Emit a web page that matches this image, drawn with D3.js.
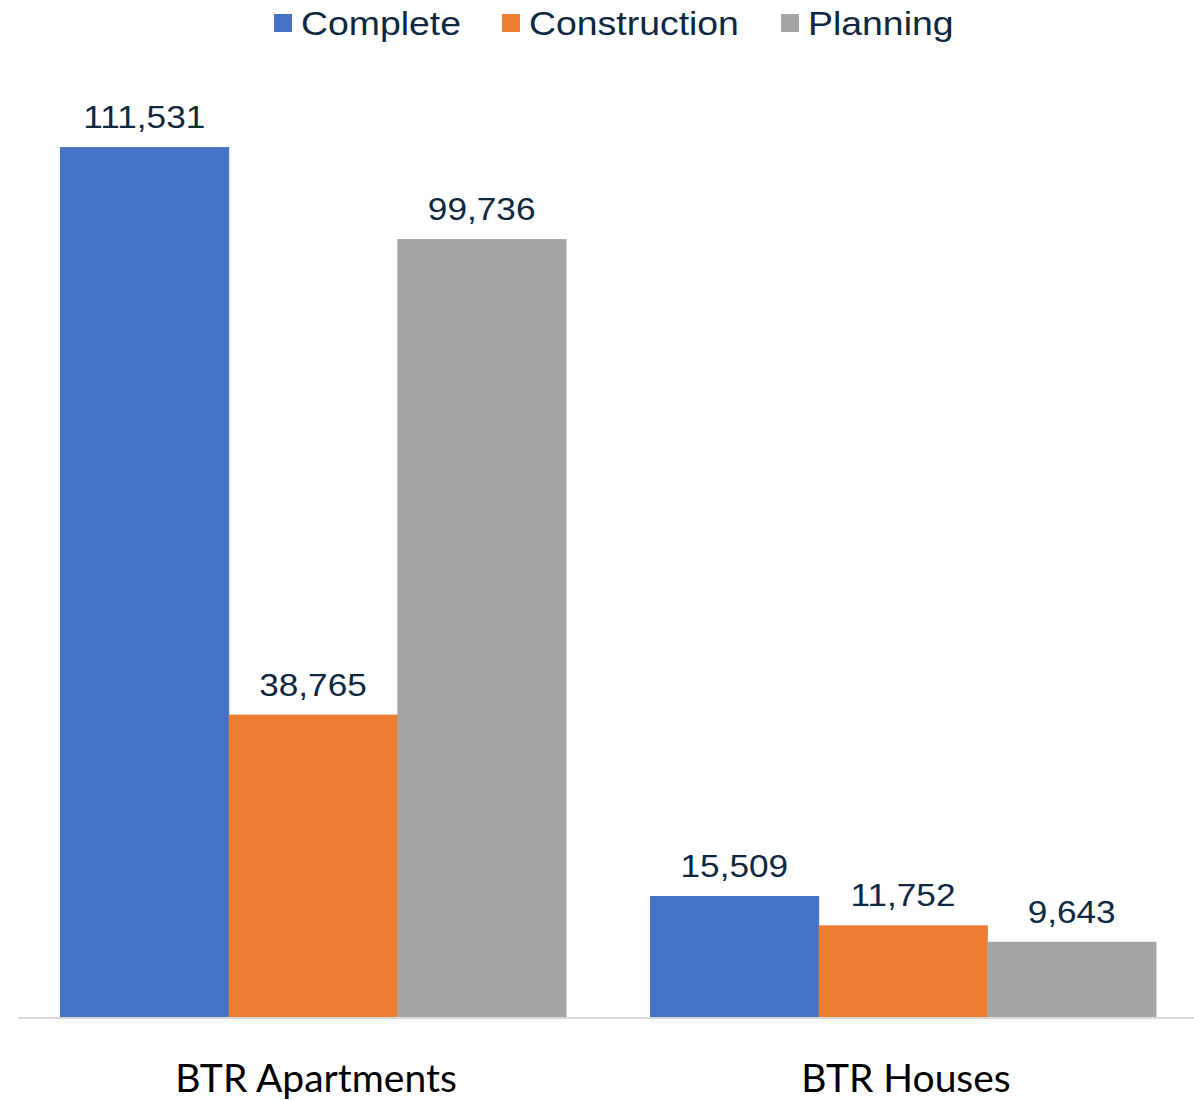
<!DOCTYPE html>
<html>
<head>
<meta charset="utf-8">
<script src="https://cdn.jsdelivr.net/npm/d3@7"></script>
<style>
body{margin:0;background:#fff;}
</style>
</head>
<body>
<svg></svg>
<script>
// chart data
const categories = ["BTR Apartments", "BTR Houses"];
const seriesNames = ["Complete", "Construction", "Planning"];
const complete = [111531, 15509];
const construction = [38765, 11752];
const planning = [99736, 9643];

const colors = ["#4472c4", "#ed7d31", "#a5a5a5"];
const labelColor = "#0e2841";

const canvasWidth = 1194;
const canvasHeight = 1100;
const baseY = 1017;
const left = 18;
const groupGap = 42;

var svg = d3.select("svg")
    .attr("width", canvasWidth)
    .attr("height", canvasHeight);

var series = [complete, construction, planning];
var rows = categories.map(function(c, i){
    return {cat: c, vals: series.map(function(s, j){ return {name: seriesNames[j], v: s[i], k: j}; })};
});

var x0 = d3.scaleBand().domain(categories).range([left, canvasWidth + 4]).padding(0);
var x1 = d3.scaleBand().domain(seriesNames).range([groupGap, x0.bandwidth() - groupGap]).padding(0);
var y = d3.scaleLinear().domain([0, 120000]).range([baseY, baseY - 936]);

var fmt = d3.format(",");

var g = svg.selectAll("g.grp").data(rows).enter().append("g")
    .attr("class", "grp")
    .attr("transform", function(d){ return "translate(" + x0(d.cat) + ",0)"; });

g.selectAll("rect").data(function(d){ return d.vals; }).enter().append("rect")
    .attr("x", function(d){ return x1(d.name); })
    .attr("y", function(d){ return y(d.v); })
    .attr("width", x1.bandwidth() + 0.5)
    .attr("height", function(d){ return baseY - y(d.v); })
    .style("fill", function(d){ return colors[d.k]; });

// value labels (slightly stretched like the source render)
g.selectAll("text.val").data(function(d){ return d.vals; }).enter().append("text")
    .attr("class", "val")
    .attr("transform", function(d){
        return "translate(" + (x1(d.name) + x1.bandwidth()/2) + "," + (y(d.v) - 19) + ") scale(1.1,1)";
    })
    .attr("text-anchor", "middle")
    .style("font-family", "'Liberation Sans', Arial, sans-serif")
    .style("font-size", "32px")
    .style("fill", labelColor)
    .text(function(d){ return fmt(d.v); });

// baseline axis
svg.append("line")
    .attr("x1", left).attr("x2", canvasWidth)
    .attr("y1", baseY + 1).attr("y2", baseY + 1)
    .style("stroke", "#d9d9d9")
    .style("stroke-width", 2);

// category labels
svg.selectAll("text.cat").data(categories).enter().append("text")
    .attr("class", "cat")
    .attr("transform", function(d){
        return "translate(" + (x0(d) + x0.bandwidth()/2 + 3) + ",1092)";
    })
    .attr("text-anchor", "middle")
    .style("font-family", "Lato, 'Noto Sans', sans-serif")
    .style("font-size", "39px")
    .style("fill", "#000")
    .text(function(d){ return d; });

// legend
var legendX = [274, 502, 781];
var legend = svg.append("g");
var li = legend.selectAll("g").data(seriesNames).enter().append("g")
    .attr("transform", function(d, i){ return "translate(" + legendX[i] + ",14)"; });
li.append("rect")
    .attr("width", 18).attr("height", 18)
    .style("fill", function(d, i){ return colors[i]; });
li.append("text")
    .attr("transform", "translate(27,21) scale(1.1,1)")
    .style("font-family", "'Liberation Sans', Arial, sans-serif")
    .style("font-size", "34px")
    .style("fill", labelColor)
    .text(function(d){ return d; });
</script>
</body>
</html>
